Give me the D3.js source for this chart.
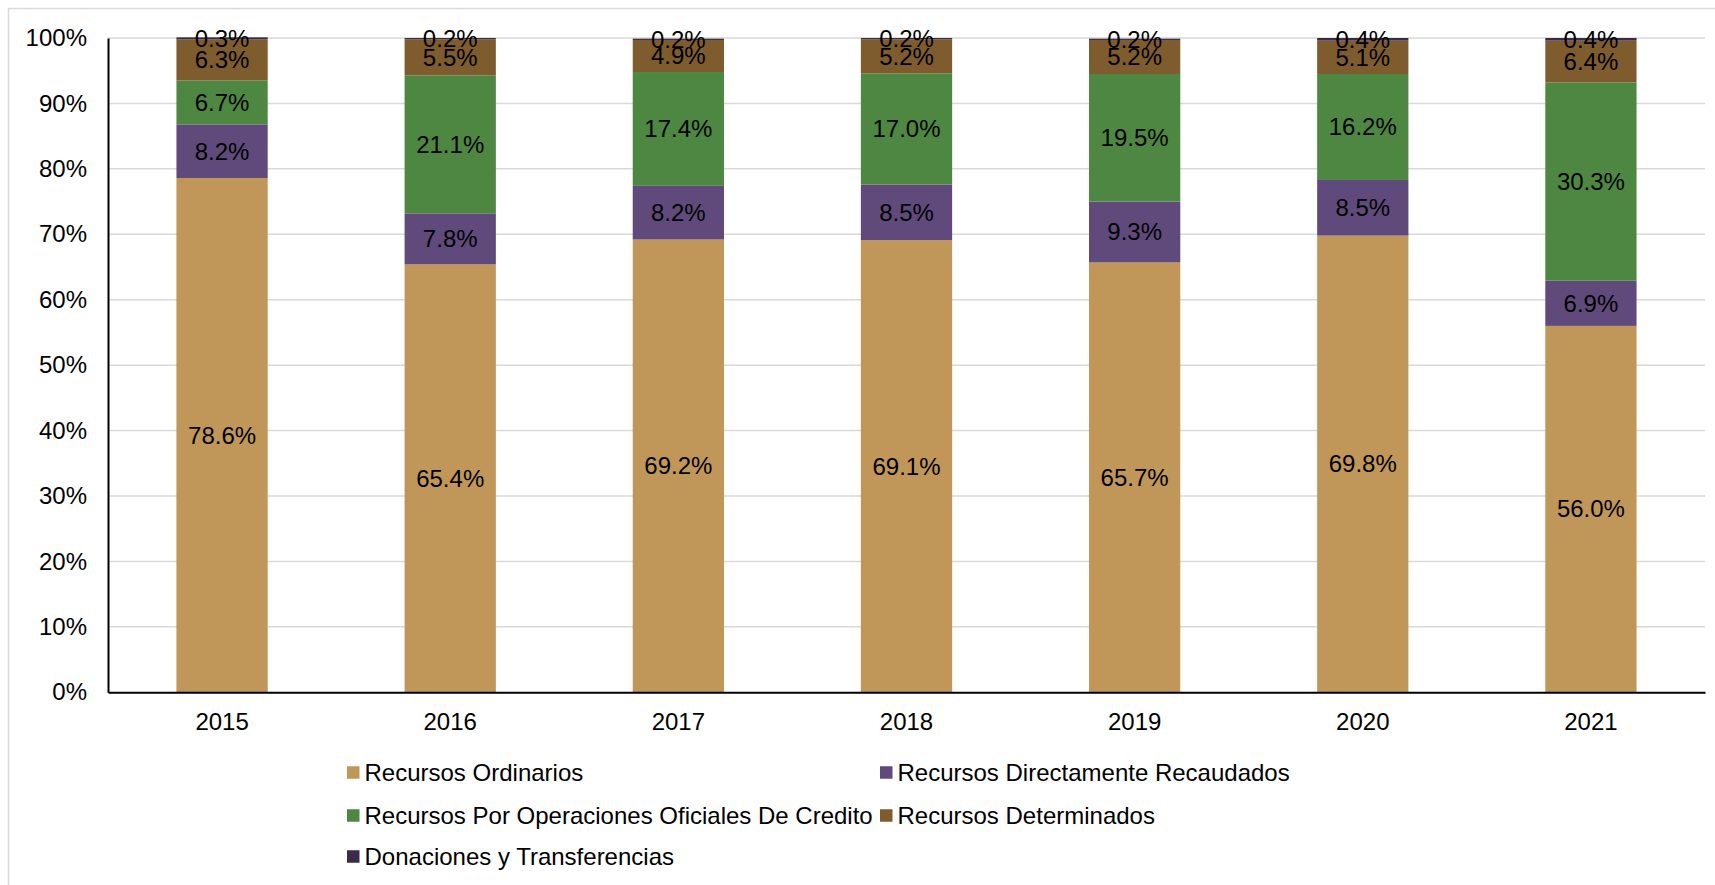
<!DOCTYPE html>
<html>
<head>
<meta charset="utf-8">
<script src="https://cdn.jsdelivr.net/npm/d3@7"></script>
<style>
  html, body { margin: 0; padding: 0; background: #fff; }
  svg { display: block; }
  text { font-family: "Liberation Sans", Arial, sans-serif; fill: #000; }
</style>
</head>
<body>
<svg id="chart" width="1715" height="885"></svg>
<script>
// Budget shares by funding source, 2015–2021 (percent of total)
const years = ["2015", "2016", "2017", "2018", "2019", "2020", "2021"];
const seriesNames = [
  "Recursos Ordinarios",
  "Recursos Directamente Recaudados",
  "Recursos Por Operaciones Oficiales De Credito",
  "Recursos Determinados",
  "Donaciones y Transferencias"
];
const ordinarios    = [78.6, 65.4, 69.2, 69.1, 65.7, 69.8, 56.0];
const directamente  = [8.2, 7.8, 8.2, 8.5, 9.3, 8.5, 6.9];
const operaciones   = [6.7, 21.1, 17.4, 17.0, 19.5, 16.2, 30.3];
const determinados  = [6.3, 5.5, 4.9, 5.2, 5.2, 5.1, 6.4];
const donaciones    = [0.3, 0.2, 0.2, 0.2, 0.2, 0.4, 0.4];
const yTicks = [0, 10, 20, 30, 40, 50, 60, 70, 80, 90, 100];

const colors = ["#C19759", "#604A7B", "#4E8742", "#7E5C2E", "#3A2B4B"];
const seriesValues = [ordinarios, directamente, operaciones, determinados, donaciones];

const rows = years.map((y, i) => {
  const r = { year: y };
  seriesNames.forEach((s, k) => { r[s] = seriesValues[k][i]; });
  return r;
});

const svg = d3.select("#chart");
const fontSize = 24;

// Outer frame
svg.append("rect")
  .attr("x", 8.5).attr("y", 8.5)
  .attr("width", 1720).attr("height", 900)
  .attr("fill", "none").attr("stroke", "#d9d9d9").attr("stroke-width", 1.5);

const plot = { left: 108, right: 1705, top: 38, bottom: 692.3 };

const x = d3.scaleBand()
  .domain(years)
  .range([plot.left, plot.right])
  .paddingInner(0.6)
  .paddingOuter(0.3);

const y = d3.scaleLinear()
  .domain([0, 100])
  .range([plot.bottom, plot.top]);

// Horizontal gridlines
svg.append("g")
  .selectAll("line")
  .data(yTicks.filter(t => t > 0))
  .join("line")
  .attr("x1", plot.left).attr("x2", plot.right)
  .attr("y1", d => y(d)).attr("y2", d => y(d))
  .attr("stroke", "#d9d9d9").attr("stroke-width", 1.5);

// Stacked bars
const stack = d3.stack().keys(seriesNames);
const layers = stack(rows);

const gBars = svg.append("g");
layers.forEach((layer, k) => {
  gBars.append("g")
    .attr("fill", colors[k])
    .selectAll("rect")
    .data(layer)
    .join("rect")
    .attr("x", d => x(d.data.year))
    .attr("width", x.bandwidth())
    .attr("y", d => y(d[1]))
    .attr("height", d => y(d[0]) - y(d[1]));
});

// Value labels centred in each segment
const gLabels = svg.append("g")
  .attr("text-anchor", "middle")
  .style("font-size", fontSize + "px");
layers.forEach((layer, k) => {
  gLabels.append("g")
    .selectAll("text")
    .data(layer)
    .join("text")
    .attr("x", d => x(d.data.year) + x.bandwidth() / 2)
    .attr("y", d => y((d[0] + d[1]) / 2))
    .attr("dy", "0.35em")
    .text(d => d3.format(".1f")(d.data[seriesNames[k]]) + "%");
});

// Y axis
const yAxis = svg.append("g")
  .attr("transform", `translate(${plot.left},0)`)
  .call(d3.axisLeft(y).tickValues(yTicks).tickSize(0).tickPadding(21).tickFormat(d => d + "%"));
yAxis.select(".domain").attr("stroke", "#000").attr("stroke-width", 2);
yAxis.selectAll("text").style("font-size", fontSize + "px").attr("font-family", null);

// X axis
const xAxis = svg.append("g")
  .attr("transform", `translate(0,${plot.bottom})`)
  .call(d3.axisBottom(x).tickSize(0).tickPadding(21));
xAxis.select(".domain").attr("stroke", "#000").attr("stroke-width", 2);
xAxis.selectAll("text").style("font-size", fontSize + "px").attr("font-family", null);

// Legend
const legendCols = [347, 880];
const legendRows = [772.5, 815.5, 856.5];
const legend = svg.append("g").style("font-size", fontSize + "px");
seriesNames.forEach((name, k) => {
  const col = k % 2, row = Math.floor(k / 2);
  const lx = legendCols[col], ly = legendRows[row];
  legend.append("rect")
    .attr("x", lx).attr("y", ly - 6.25)
    .attr("width", 12.5).attr("height", 12.5)
    .attr("fill", colors[k]);
  legend.append("text")
    .attr("x", lx + 17.5)
    .attr("y", ly)
    .attr("dy", "0.35em")
    .text(name);
});
</script>
</body>
</html>
